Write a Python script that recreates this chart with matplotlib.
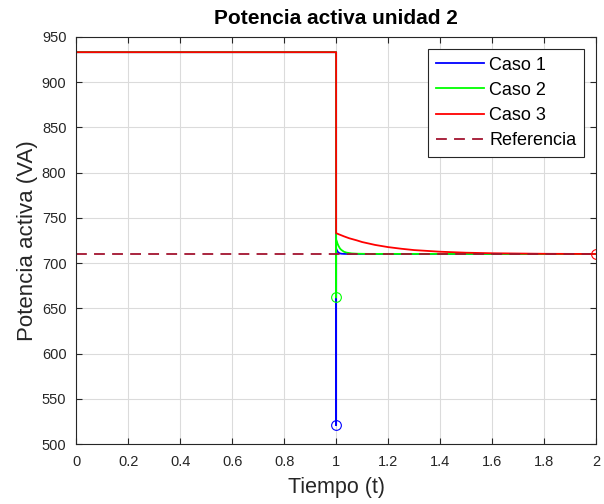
import matplotlib
matplotlib.use("Agg")
import matplotlib.pyplot as plt

plt.rcParams["font.family"] = ["Liberation Sans", "DejaVu Sans"]

# Caso 1 (blue)
t1 = [0, 1.0, 1.0, 1.0, 1.003, 1.006, 1.01, 1.015, 1.02, 1.03, 1.05, 2.0]
p1 = [933, 933, 521, 716, 714, 712.5, 711.3, 710.6, 710.3, 710.1, 710, 710]
# Caso 2 (green)
t2 = [0, 1.0, 1.0, 1.0, 1.003, 1.006, 1.01, 1.015, 1.02, 1.03, 1.04, 1.06, 1.08, 1.12, 2.0]
p2 = [933, 933, 662, 726, 723.5, 721, 718.5, 716, 714.5, 712.5, 711.5, 710.6, 710.3, 710.1, 710]
# Caso 3 (red)
t3 = [0, 1.0, 1.0, 1.01, 1.03, 1.05, 1.08, 1.1, 1.15, 1.2, 1.25, 1.3, 1.4, 1.5, 1.6, 1.7, 1.8, 2.0]
p3 = [933, 933, 733, 731.8, 729.5, 727.4, 725, 723.2, 720, 717.6, 715.8, 714.3, 712.5, 711.4, 710.8, 710.5, 710.2, 710]
ref_t = [0, 2]
ref_p = [710, 710]
# end markers
mark_t = [1.0, 1.0, 2.0]
mark_p = [521, 662, 710]

fig = plt.figure(figsize=(6.04, 5.04), dpi=100)
ax = fig.add_axes([0.126, 0.119, 0.861, 0.808])

ax.plot(t1, p1, color=(0, 0, 1), lw=1.3, label="Caso 1")
ax.plot(t2, p2, color=(0, 1, 0), lw=1.3, label="Caso 2")
ax.plot(t3, p3, color=(1, 0, 0), lw=1.3, label="Caso 3")
ax.plot(ref_t, ref_p, color="#A2142F", lw=1.3, ls=(0, (6, 4)), label="Referencia")
for x, y, c in zip(mark_t, mark_p, [(0, 0, 1), (0, 1, 0), (1, 0, 0)]):
    ax.plot([x], [y], "o", mfc="none", mec=c, ms=7, mew=0.8)

ax.set_xlim(0, 2)
ax.set_ylim(500, 950)
ax.set_xticks([0, 0.2, 0.4, 0.6, 0.8, 1, 1.2, 1.4, 1.6, 1.8, 2])
ax.set_xticklabels(["0", "0.2", "0.4", "0.6", "0.8", "1", "1.2", "1.4", "1.6", "1.8", "2"])
ax.set_yticks(range(500, 951, 50))
ax.grid(True, color=(0.86, 0.86, 0.86), lw=0.8)
ax.set_axisbelow(True)
ax.tick_params(direction="in", top=True, right=True, labelsize=10.5,
               colors=(0.15, 0.15, 0.15), length=4)
ax.tick_params(axis="y", pad=7)
ax.tick_params(axis="x", pad=8)
for s in ax.spines.values():
    s.set_color((0.15, 0.15, 0.15))

ax.set_title("Potencia activa unidad 2", fontsize=15, fontweight="bold", pad=9)
ax.set_xlabel("Tiempo (t)", fontsize=15.5, labelpad=6, color=(0.15, 0.15, 0.15))
ax.set_ylabel("Potencia activa (VA)", fontsize=16, labelpad=3, color=(0.15, 0.15, 0.15))
leg = ax.legend(loc="upper right", fontsize=13, fancybox=False, framealpha=1,
                edgecolor=(0.15, 0.15, 0.15), handlelength=2.65, borderaxespad=0.65,
                labelspacing=0.45, handletextpad=0.3, borderpad=0.45)
leg.get_frame().set_linewidth(0.8)

plt.savefig("out.png", dpi=100)
plt.close()
